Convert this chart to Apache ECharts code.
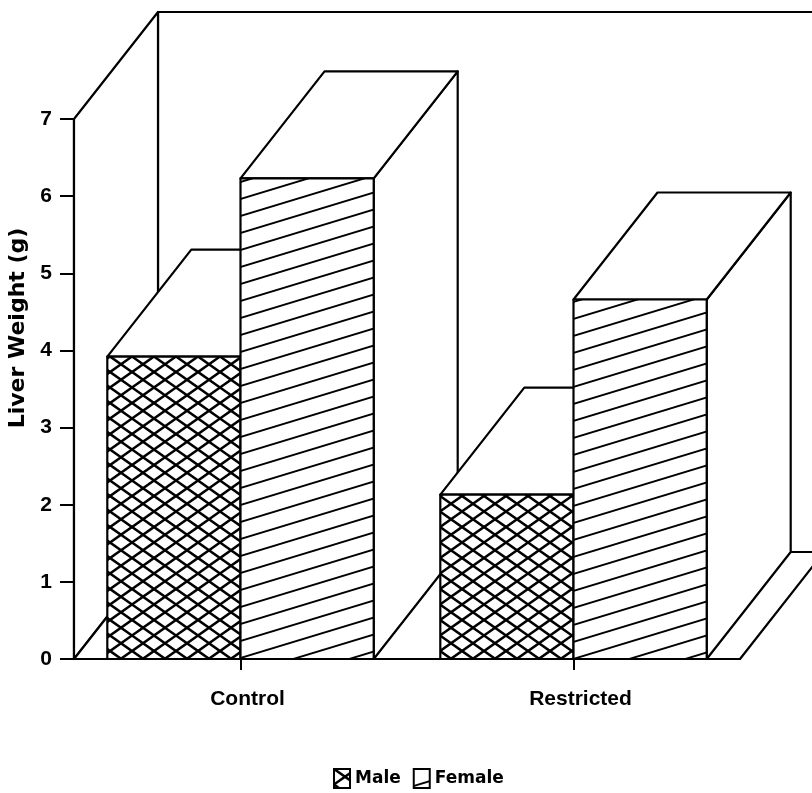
<!DOCTYPE html>
<html>
<head>
<meta charset="utf-8">
<script src="https://cdn.jsdelivr.net/npm/echarts@6/dist/echarts.min.js"></script>
<style>
  html, body { margin: 0; padding: 0; background: #fff; }
  #chart { width: 812px; height: 793px; }
</style>
</head>
<body>
<div id="chart"></div>
<script>
// Liver weight by diet group and sex
const categories = ['Control', 'Restricted'];
const maleValues = [3.92, 2.13];
const femaleValues = [6.23, 4.66];
const seriesNames = ['Male', 'Female'];
const yMin = 0;
const yMax = 7;
const yStep = 1;

// oblique depth of the box and bars, in pixels
const DX = 84;
const DY = -107;

// cross-hatch tile for the male bars
function makeCrossHatch() {
  const w = 22, h = 15.5;
  const c = document.createElement('canvas');
  c.width = 2 * w;
  c.height = 2 * h;
  const g = c.getContext('2d');
  g.fillStyle = '#fff';
  g.fillRect(0, 0, c.width, c.height);
  g.strokeStyle = '#000';
  g.lineWidth = 2.6;
  for (let k = -4; k <= 6; k++) {
    const x0 = k * w;
    g.beginPath(); g.moveTo(x0 - 2 * w, -2 * h); g.lineTo(x0 + 4 * w, 4 * h); g.stroke();
    g.beginPath(); g.moveTo(x0 - 2 * w, 2 * h); g.lineTo(x0 + 4 * w, -4 * h); g.stroke();
  }
  return c;
}

// single diagonal hatch tile for the female bars
function makeLineHatch() {
  const w = 56, h = 17;
  const c = document.createElement('canvas');
  c.width = w;
  c.height = h;
  const g = c.getContext('2d');
  g.fillStyle = '#fff';
  g.fillRect(0, 0, w, h);
  g.strokeStyle = '#000';
  g.lineWidth = 1.9;
  for (let k = -2; k <= 2; k++) {
    g.beginPath(); g.moveTo(-w, 2 * h + k * h); g.lineTo(2 * w, -h + k * h); g.stroke();
  }
  return c;
}

const malePattern = { image: makeCrossHatch(), repeat: 'repeat' };
const femalePattern = { image: makeLineHatch(), repeat: 'repeat' };
const patterns = [malePattern, femalePattern];

const edge = { stroke: '#000', lineWidth: 2.2, lineJoin: 'round' };

// back wall, side wall and floor of the plot box
function renderBox(params, api) {
  const cs = params.coordSys;
  const x0 = cs.x, x1 = cs.x + cs.width;
  const yt = api.coord([0, yMax])[1];
  const yb = api.coord([0, yMin])[1];
  const st = Object.assign({ fill: '#fff' }, edge);
  return {
    type: 'group',
    children: [
      { type: 'polygon', z2: -3, shape: { points: [[x0 + DX, yb + DY], [x0 + DX, yt + DY], [x1 + DX, yt + DY], [x1 + DX, yb + DY]] }, style: st },
      { type: 'polygon', z2: -2, shape: { points: [[x0, yb], [x0, yt], [x0 + DX, yt + DY], [x0 + DX, yb + DY]] }, style: st },
      { type: 'polygon', z2: -1, shape: { points: [[x0, yb], [x1, yb], [x1 + DX, yb + DY], [x0 + DX, yb + DY]] }, style: st }
    ]
  };
}

// one extruded bar: right face, top face, patterned front face
function barRenderer(side) {
  return function (params, api) {
    const ci = api.value(0);
    const v = api.value(1);
    const top = api.coord([ci, v]);
    const base = api.coord([ci, yMin]);
    const bw = api.size([1, 0])[0] * 0.4;
    const xl = side === 0 ? top[0] - bw : top[0];
    const xr = xl + bw;
    const yt = top[1], yb = base[1];
    const z2 = ci * 2 + side;
    const white = Object.assign({ fill: '#fff' }, edge);
    return {
      type: 'group',
      children: [
        { type: 'polygon', z2: z2, shape: { points: [[xr, yt], [xr, yb], [xr + DX, yb + DY], [xr + DX, yt + DY]] }, style: white },
        { type: 'polygon', z2: z2, shape: { points: [[xl, yt], [xr, yt], [xr + DX, yt + DY], [xl + DX, yt + DY]] }, style: white },
        { type: 'rect', z2: z2, shape: { x: xl, y: yt, width: bw, height: yb - yt }, style: Object.assign({ fill: patterns[side] }, edge) }
      ]
    };
  };
}

const chart = echarts.init(document.getElementById('chart'), null, { renderer: 'canvas' });

chart.setOption({
  backgroundColor: '#fff',
  animation: false,
  grid: { left: 74, right: 72, top: 119, bottom: 134, outerBoundsMode: 'none' },
  legend: {
    left: 328,
    top: 763,
    icon: 'rect',
    itemWidth: 16,
    itemHeight: 19,
    itemGap: 12,
    textStyle: { fontFamily: 'DejaVu Sans', fontWeight: 'bold', fontSize: 17, color: '#000' },
    itemStyle: { borderColor: '#000', borderWidth: 2 },
    data: [
      { name: seriesNames[0], itemStyle: { color: malePattern, borderColor: '#000', borderWidth: 2 } },
      { name: seriesNames[1], itemStyle: { color: femalePattern, borderColor: '#000', borderWidth: 2 } }
    ]
  },
  xAxis: {
    type: 'category',
    data: categories,
    axisLine: { show: true, lineStyle: { color: '#000', width: 2.2 } },
    axisTick: { show: true, alignWithLabel: true, length: 11, lineStyle: { color: '#000', width: 2 } },
    axisLabel: {
      margin: 30,
      color: '#000',
      fontFamily: 'Liberation Sans',
      fontWeight: 'bold',
      fontSize: 21,
      padding: [0, 0, 0, 14]
    },
    splitLine: { show: false }
  },
  yAxis: {
    type: 'value',
    min: yMin,
    max: yMax,
    interval: yStep,
    name: 'Liver Weight (g)',
    nameLocation: 'middle',
    nameGap: 42,
    nameTextStyle: {
      color: '#000',
      fontFamily: 'DejaVu Sans',
      fontWeight: 'bold',
      fontSize: 22,
      padding: [0, 0, 0, 122]
    },
    axisLine: { show: true, lineStyle: { color: '#000', width: 2.2 } },
    axisTick: { show: true, length: 14, lineStyle: { color: '#000', width: 2 } },
    axisLabel: {
      margin: 22,
      color: '#000',
      fontFamily: 'Liberation Sans',
      fontWeight: 'bold',
      fontSize: 21
    },
    splitLine: { show: false }
  },
  series: [
    {
      type: 'custom',
      name: 'box',
      z: 1,
      silent: true,
      renderItem: renderBox,
      data: [[0, yMax]],
      encode: { x: 0, y: 1 }
    },
    {
      type: 'custom',
      name: seriesNames[0],
      z: 2,
      itemStyle: { color: malePattern },
      renderItem: barRenderer(0),
      data: categories.map((c, i) => [i, maleValues[i]]),
      encode: { x: 0, y: 1 }
    },
    {
      type: 'custom',
      name: seriesNames[1],
      z: 2,
      itemStyle: { color: femalePattern },
      renderItem: barRenderer(1),
      data: categories.map((c, i) => [i, femaleValues[i]]),
      encode: { x: 0, y: 1 }
    }
  ]
});
</script>
</body>
</html>
